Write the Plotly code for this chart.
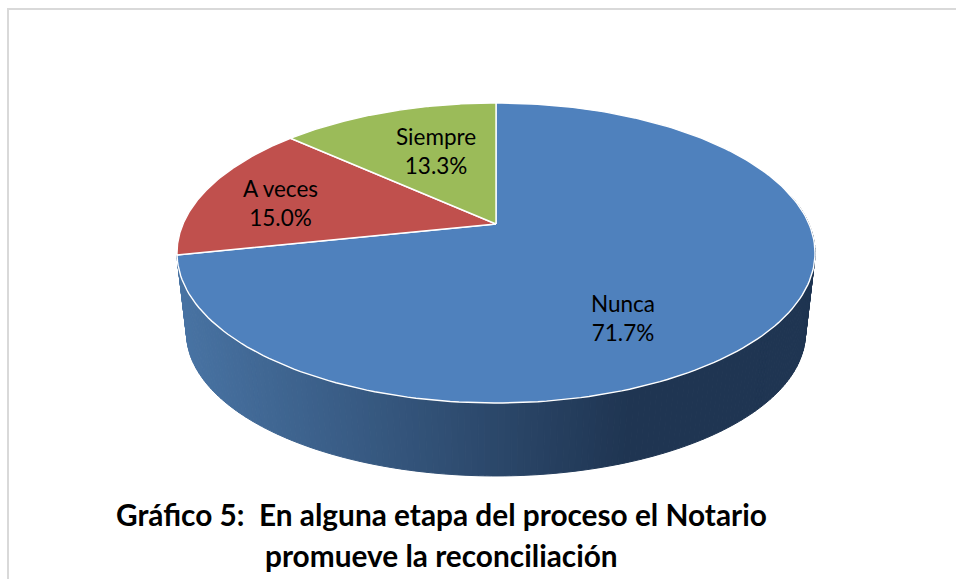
import numpy as np
import plotly.graph_objects as go

categories = ["Nunca", "A veces", "Siempre"]
values = [71.7, 15.0, 13.3]
slice_colors = ["#4f81bd", "#c0504d", "#9bbb59"]
title_lines = ["Gráfico 5:\u00a0\u00a0En alguna etapa del proceso el Notario",
               "promueve la reconciliación"]

# projection of the tilted disc onto the page
CX, CY = 496.0, 224.0
B, A, K = 313.0, 144.4, 0.1933
# lower rim of the wall relative to the upper rim
EX, EY, SX, SY = 0.97, 253.0, 333.0, 0.953


def rim(theta, t=1.0):
    u, v = t * np.sin(theta), t * np.cos(theta)
    w = 1 + K * v
    return CX + B * u / w, CY - A * v / w


def lower(x, y):
    return CX + EX * (x - CX), SX + SY * (y - EY)


def mix(c1, c2, f):
    return "rgb(%d,%d,%d)" % tuple(round(a + (b - a) * f) for a, b in zip(c1, c2))


fig = go.Figure()

total = sum(values)
edges = np.cumsum([0] + values) / total * 2 * np.pi

# side wall of the first slice, shaded from left to right
WALL_L, WALL_R = (72, 115, 163), (31, 53, 82)
steps = 260
ts = np.linspace(edges[1], edges[0], steps + 1)
for a, b in zip(ts[:-1], ts[1:]):
    if np.sin(a) > 0 and np.cos(a) > 0.2:
        continue
    x1, y1 = rim(a)
    x2, y2 = rim(b)
    x3, y3 = lower(x2, y2)
    x4, y4 = lower(x1, y1)
    f = min(1, max(0, ((x1 + x2) / 2 - 178) / (630 - 178)))
    col = mix(WALL_L, WALL_R, f)
    fig.add_trace(go.Scatter(x=[x1, x2, x3, x4, x1], y=[y1, y2, y3, y4, y1],
                             mode="lines", fill="toself", fillcolor=col,
                             line=dict(color=col, width=1),
                             hoverinfo="skip", showlegend=False))

# top faces
for name, col, a, b in zip(categories, slice_colors, edges[:-1], edges[1:]):
    th = np.linspace(a, b, 200)
    xs, ys = rim(th)
    fig.add_trace(go.Scatter(x=np.r_[CX, xs, CX], y=np.r_[CY, ys, CY],
                             mode="lines", fill="toself", fillcolor=col,
                             line=dict(color="white", width=1.4),
                             name=name, hoverinfo="skip", showlegend=False))

# data labels
label_x = [623, 280, 436]
label_y = [318, 203, 151]
for name, val, lx, ly in zip(categories, values, label_x, label_y):
    fig.add_annotation(x=lx, y=ly, xref="x", yref="y", showarrow=False,
                       text=f"{name}<br>{val:.1f}%", align="center",
                       font=dict(family="Lato", size=22.5, color="#000000"))

fig.add_annotation(x=114, y=514, xref="x", yref="y", showarrow=False, xanchor="left",
                   text=title_lines[0],
                   font=dict(family="Lato", size=29.8, color="#000000", weight="bold"))
fig.add_annotation(x=263, y=555, xref="x", yref="y", showarrow=False, xanchor="left",
                   text=title_lines[1],
                   font=dict(family="Lato", size=29.8, color="#000000", weight="bold"))

# frame
fig.add_shape(type="line", x0=8, x1=8, y0=8, y1=579, line=dict(color="#d9d9d9", width=2))
fig.add_shape(type="line", x0=8, x1=956, y0=9, y1=9, line=dict(color="#d9d9d9", width=2))

fig.update_layout(
    width=956, height=579, autosize=False,
    margin=dict(l=0, r=0, t=0, b=0),
    paper_bgcolor="white", plot_bgcolor="white",
    xaxis=dict(range=[0, 956], visible=False, fixedrange=True),
    yaxis=dict(range=[579, 0], visible=False, fixedrange=True),
    showlegend=False,
)
fig.write_html("out.html", config={"displayModeBar": False},
               post_script="document.body.style.margin='0';document.body.style.overflow='hidden';")
